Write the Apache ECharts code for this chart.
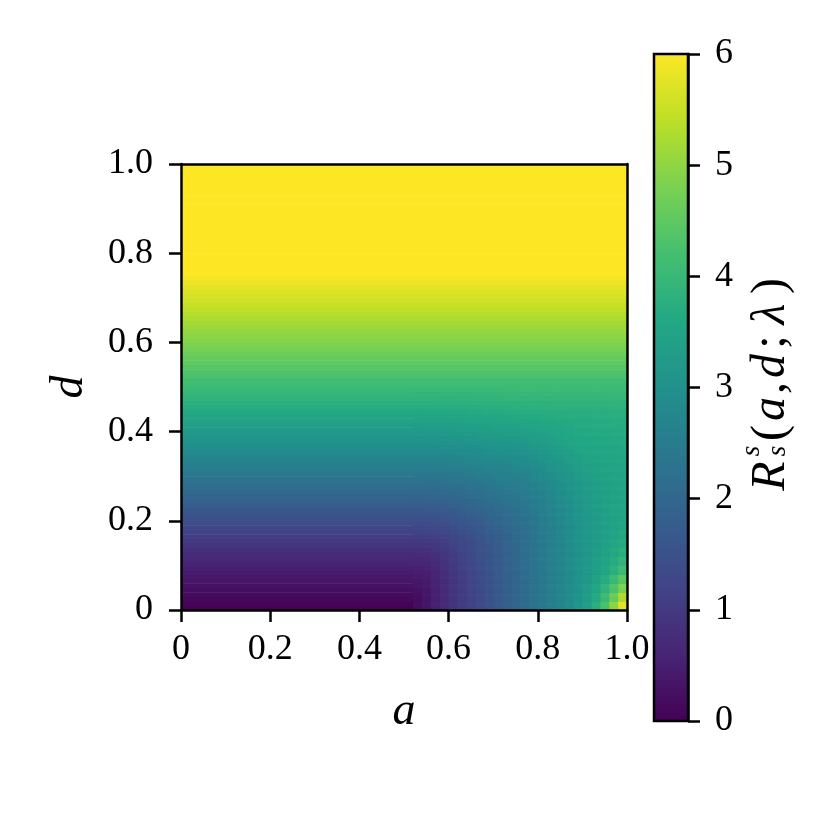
<!DOCTYPE html>
<html>
<head>
<meta charset="utf-8">
<script src="https://cdn.jsdelivr.net/npm/echarts@6/dist/echarts.min.js"></script>
<style>
  html, body { margin: 0; padding: 0; background: #fff; }
  #chart { width: 830px; height: 830px; }
</style>
</head>
<body>
<div id="chart"></div>
<script>
'use strict';

// R along d (rows 0.01 tall, from d = 0 upwards); away from the lower right
// corner it does not depend on a
var profileStep = 0.01;
var profileR = [
  0.02, 0.07, 0.12, 0.18, 0.23, 0.29, 0.34, 0.40, 0.47, 0.53,
  0.60, 0.67, 0.74, 0.82, 0.91, 0.99, 1.08, 1.18, 1.27, 1.37,
  1.46, 1.56, 1.65, 1.75, 1.84, 1.94, 2.03, 2.11, 2.20, 2.29,
  2.38, 2.47, 2.56, 2.65, 2.74, 2.83, 2.92, 3.01, 3.10, 3.18,
  3.27, 3.35, 3.44, 3.52, 3.61, 3.69, 3.77, 3.85, 3.93, 4.01,
  4.09, 4.17, 4.25, 4.33, 4.41, 4.49, 4.57, 4.65, 4.73, 4.81,
  4.88, 4.96, 5.03, 5.11, 5.18, 5.26, 5.33, 5.41, 5.48, 5.56,
  5.63, 5.70, 5.77, 5.85, 5.92, 5.99, 6, 6, 6, 6,
  6, 6, 6, 6, 6, 6, 6, 6, 6, 6,
  6, 6, 6, 6, 6, 6, 6, 6, 6, 6
];

// lower right corner: how much R rises above the profile there.
// columns a = 0.52-0.54 ... 0.98-1.00, rows d = 0-0.02 ... 0.48-0.50
var cornerA = [0.53, 0.55, 0.57, 0.59, 0.61, 0.63, 0.65, 0.67, 0.69, 0.71, 0.73, 0.75,
               0.77, 0.79, 0.81, 0.83, 0.85, 0.87, 0.89, 0.91, 0.93, 0.95, 0.97, 0.99];
var cornerD = [0.01, 0.03, 0.05, 0.07, 0.09, 0.11, 0.13, 0.15, 0.17, 0.19,
               0.21, 0.23, 0.25, 0.27, 0.29, 0.31, 0.33, 0.35, 0.37, 0.39,
               0.41, 0.43, 0.45, 0.47, 0.49];
var cornerRise = [
  [0.15, 0.30, 0.50, 0.68, 0.85, 1.00, 1.15, 1.30, 1.45, 1.60, 1.75, 1.90, 2.05, 2.20, 2.35, 2.50, 2.65, 2.82, 3.05, 3.30, 3.70, 4.20, 4.90, 5.70],
  [0.08, 0.20, 0.40, 0.58, 0.75, 0.90, 1.05, 1.20, 1.35, 1.50, 1.65, 1.80, 1.95, 2.10, 2.25, 2.40, 2.55, 2.72, 2.92, 3.15, 3.50, 3.90, 4.45, 5.10],
  [0.05, 0.13, 0.30, 0.48, 0.65, 0.80, 0.95, 1.10, 1.25, 1.40, 1.55, 1.70, 1.85, 2.00, 2.15, 2.30, 2.45, 2.62, 2.82, 3.03, 3.30, 3.62, 4.05, 4.55],
  [0.03, 0.09, 0.23, 0.40, 0.56, 0.71, 0.86, 1.01, 1.16, 1.31, 1.45, 1.60, 1.75, 1.90, 2.05, 2.20, 2.35, 2.51, 2.69, 2.87, 3.08, 3.33, 3.67, 4.05],
  [0.02, 0.05, 0.16, 0.31, 0.46, 0.61, 0.75, 0.89, 1.04, 1.19, 1.33, 1.48, 1.63, 1.78, 1.93, 2.07, 2.22, 2.38, 2.54, 2.70, 2.87, 3.05, 3.30, 3.58],
  [0.01, 0.03, 0.11, 0.24, 0.38, 0.52, 0.65, 0.79, 0.93, 1.07, 1.22, 1.36, 1.50, 1.65, 1.80, 1.94, 2.09, 2.24, 2.40, 2.55, 2.70, 2.85, 3.05, 3.28],
  [0.00, 0.02, 0.08, 0.18, 0.30, 0.42, 0.55, 0.68, 0.81, 0.95, 1.09, 1.23, 1.37, 1.50, 1.65, 1.80, 1.95, 2.09, 2.24, 2.39, 2.53, 2.66, 2.82, 2.98],
  [0.00, 0.01, 0.05, 0.13, 0.23, 0.33, 0.44, 0.56, 0.69, 0.82, 0.95, 1.08, 1.21, 1.34, 1.49, 1.63, 1.78, 1.93, 2.08, 2.22, 2.34, 2.46, 2.59, 2.72],
  [0.00, 0.01, 0.04, 0.10, 0.18, 0.26, 0.36, 0.47, 0.58, 0.70, 0.82, 0.94, 1.05, 1.18, 1.33, 1.47, 1.62, 1.76, 1.91, 2.05, 2.16, 2.27, 2.37, 2.47],
  [0.00, 0.01, 0.03, 0.07, 0.14, 0.21, 0.29, 0.38, 0.49, 0.59, 0.70, 0.80, 0.90, 1.02, 1.16, 1.30, 1.44, 1.58, 1.73, 1.86, 1.97, 2.07, 2.16, 2.24],
  [0.00, 0.01, 0.02, 0.06, 0.11, 0.17, 0.24, 0.31, 0.40, 0.49, 0.59, 0.67, 0.76, 0.87, 1.00, 1.14, 1.28, 1.42, 1.56, 1.69, 1.79, 1.88, 1.95, 2.02],
  [0.00, 0.01, 0.02, 0.05, 0.09, 0.14, 0.19, 0.26, 0.34, 0.42, 0.49, 0.56, 0.64, 0.74, 0.86, 0.99, 1.12, 1.26, 1.39, 1.52, 1.62, 1.70, 1.76, 1.80],
  [0.00, 0.01, 0.02, 0.04, 0.07, 0.11, 0.16, 0.22, 0.29, 0.35, 0.41, 0.47, 0.53, 0.62, 0.73, 0.85, 0.98, 1.11, 1.24, 1.36, 1.45, 1.52, 1.57, 1.61],
  [0.00, 0.01, 0.01, 0.03, 0.06, 0.10, 0.14, 0.19, 0.25, 0.30, 0.35, 0.39, 0.44, 0.52, 0.63, 0.74, 0.86, 0.98, 1.10, 1.21, 1.29, 1.35, 1.39, 1.43],
  [0.00, 0.01, 0.01, 0.03, 0.05, 0.08, 0.12, 0.16, 0.21, 0.26, 0.29, 0.33, 0.37, 0.45, 0.54, 0.64, 0.75, 0.86, 0.97, 1.07, 1.14, 1.20, 1.23, 1.26],
  [0.00, 0.00, 0.01, 0.02, 0.04, 0.07, 0.10, 0.13, 0.16, 0.20, 0.24, 0.28, 0.31, 0.37, 0.46, 0.55, 0.65, 0.75, 0.86, 0.95, 1.00, 1.04, 1.07, 1.10],
  [0.00, 0.00, 0.01, 0.02, 0.04, 0.06, 0.08, 0.11, 0.14, 0.17, 0.20, 0.23, 0.26, 0.31, 0.39, 0.47, 0.56, 0.66, 0.75, 0.83, 0.87, 0.90, 0.92, 0.94],
  [0.00, 0.00, 0.01, 0.02, 0.03, 0.05, 0.07, 0.10, 0.12, 0.14, 0.17, 0.19, 0.22, 0.27, 0.34, 0.41, 0.49, 0.57, 0.65, 0.71, 0.74, 0.76, 0.77, 0.79],
  [0.00, 0.00, 0.01, 0.02, 0.03, 0.05, 0.06, 0.08, 0.10, 0.12, 0.14, 0.16, 0.18, 0.23, 0.29, 0.36, 0.43, 0.50, 0.56, 0.59, 0.60, 0.61, 0.62, 0.64],
  [0.00, 0.00, 0.01, 0.01, 0.02, 0.04, 0.05, 0.07, 0.09, 0.11, 0.12, 0.14, 0.16, 0.20, 0.25, 0.30, 0.35, 0.40, 0.44, 0.47, 0.48, 0.48, 0.49, 0.50],
  [0.00, 0.00, 0.01, 0.01, 0.02, 0.04, 0.05, 0.07, 0.08, 0.09, 0.10, 0.12, 0.14, 0.17, 0.20, 0.23, 0.26, 0.29, 0.32, 0.34, 0.35, 0.36, 0.37, 0.38],
  [0.00, 0.00, 0.01, 0.01, 0.02, 0.03, 0.05, 0.06, 0.07, 0.08, 0.09, 0.11, 0.12, 0.14, 0.16, 0.17, 0.18, 0.19, 0.20, 0.21, 0.22, 0.22, 0.23, 0.24],
  [0.00, 0.00, 0.01, 0.01, 0.02, 0.02, 0.04, 0.05, 0.06, 0.06, 0.07, 0.08, 0.09, 0.10, 0.11, 0.11, 0.12, 0.12, 0.12, 0.12, 0.13, 0.13, 0.14, 0.14],
  [0.00, 0.00, 0.00, 0.01, 0.01, 0.01, 0.02, 0.03, 0.04, 0.04, 0.05, 0.05, 0.06, 0.06, 0.06, 0.06, 0.07, 0.07, 0.07, 0.07, 0.07, 0.07, 0.08, 0.08],
  [0.00, 0.00, 0.00, 0.00, 0.01, 0.01, 0.01, 0.02, 0.02, 0.02, 0.03, 0.03, 0.03, 0.03, 0.03, 0.03, 0.04, 0.04, 0.04, 0.04, 0.04, 0.04, 0.04, 0.04]
];

var xTickLabels = ['0', '0.2', '0.4', '0.6', '0.8', '1.0'];
var yTickLabels = ['0', '0.2', '0.4', '0.6', '0.8', '1.0'];
var barTickLabels = ['0', '1', '2', '3', '4', '5', '6'];

var viridis = ['#440154', '#482475', '#414487', '#355f8d', '#2a788e', '#21918c',
               '#22a884', '#44bf70', '#7ad151', '#bddf26', '#fde725'];

var SERIF = '"Liberation Serif", "DejaVu Serif", serif';
var TICK_FONT = 36;

var cornerW = cornerA[1] - cornerA[0];
var cornerH = cornerD[1] - cornerD[0];

// [d, R] rows spanning the whole width
var profileRows = profileR.map(function (v, k) {
    return [(k + 0.5) * profileStep, v];
});

// [a, d, R] cells of the corner, on the profile's rows
var cornerCells = [];
profileR.forEach(function (v, k) {
    var d = (k + 0.5) * profileStep;
    var i = Math.floor(d / cornerH);
    if (i >= cornerD.length) return;
    cornerA.forEach(function (a, j) {
        cornerCells.push([a, d, v + cornerRise[i][j]]);
    });
});

function renderRow(params, api) {
    var d = api.value(0);
    var p0 = api.coord([0, d + profileStep / 2]);
    var p1 = api.coord([1, d - profileStep / 2]);
    return {
        type: 'rect',
        shape: { x: p0[0], y: p0[1], width: p1[0] - p0[0], height: p1[1] - p0[1] + 0.6 },
        style: { fill: api.visual('color') }
    };
}

function renderCell(params, api) {
    var a = api.value(0), d = api.value(1);
    var p0 = api.coord([a - cornerW / 2, d + profileStep / 2]);
    var p1 = api.coord([a + cornerW / 2, d - profileStep / 2]);
    return {
        type: 'rect',
        shape: { x: p0[0], y: p0[1], width: p1[0] - p0[0] + 0.6, height: p1[1] - p0[1] + 0.6 },
        style: { fill: api.visual('color') }
    };
}

function renderBar(params, api) {
    var p0 = api.coord([0, api.value(1)]);
    var p1 = api.coord([1, api.value(0)]);
    var stops = viridis.map(function (c, k) {
        return { offset: 1 - k / (viridis.length - 1), color: c };
    });
    return {
        type: 'rect',
        shape: { x: p0[0], y: p0[1], width: p1[0] - p0[0], height: p1[1] - p0[1] },
        style: {
            fill: new echarts.graphic.LinearGradient(0, 0, 0, 1, stops),
            stroke: '#000',
            lineWidth: 2.5
        }
    };
}

function tickAxis(extra) {
    var base = {
        type: 'value',
        axisLine: { show: true, onZero: false, lineStyle: { color: '#000', width: 2.5 } },
        axisTick: { show: true, inside: false, length: 12, lineStyle: { color: '#000', width: 2.5 } },
        splitLine: { show: false },
        z: 5
    };
    return Object.assign(base, extra);
}

function frameAxis(extra) {
    var base = {
        type: 'value',
        min: 0, max: 1,
        axisLine: { show: true, onZero: false, lineStyle: { color: '#000', width: 2.5 } },
        axisTick: { show: false },
        axisLabel: { show: false },
        splitLine: { show: false },
        z: 5
    };
    return Object.assign(base, extra);
}

function labelPiece(x, y, text, size, italic) {
    return {
        type: 'text', x: x, y: y,
        style: {
            text: text, fill: '#000', fontFamily: SERIF, fontSize: size,
            fontStyle: italic ? 'italic' : 'normal',
            align: 'center', verticalAlign: 'middle'
        }
    };
}

var chart = echarts.init(document.getElementById('chart'), null, { renderer: 'canvas' });

chart.setOption({
    animation: false,
    backgroundColor: '#fff',
    grid: [
        { left: 181, top: 164, width: 446, height: 446, show: false },
        { left: 654, top: 54, width: 34, height: 667, show: false }
    ],
    xAxis: [
        tickAxis({
            gridIndex: 0, position: 'bottom', min: 0, max: 1, interval: 0.2,
            axisLabel: {
                color: '#000', fontFamily: SERIF, fontSize: TICK_FONT, margin: 22,
                formatter: function (v) { return xTickLabels[Math.round(v / 0.2)]; }
            },
            name: 'a', nameLocation: 'middle', nameGap: 79,
            nameTextStyle: { color: '#000', fontFamily: SERIF, fontStyle: 'italic', fontSize: 46 }
        }),
        frameAxis({ gridIndex: 0, position: 'top' }),
        { type: 'value', gridIndex: 1, min: 0, max: 1, show: false }
    ],
    yAxis: [
        tickAxis({
            gridIndex: 0, position: 'left', min: 0, max: 1, interval: 0.2,
            axisLabel: {
                color: '#000', fontFamily: SERIF, fontSize: TICK_FONT, margin: 28,
                formatter: function (v) { return yTickLabels[Math.round(v / 0.2)]; }
            },
            name: 'd', nameLocation: 'middle', nameGap: 88,
            nameTextStyle: { color: '#000', fontFamily: SERIF, fontStyle: 'italic', fontSize: 46 }
        }),
        frameAxis({ gridIndex: 0, position: 'right' }),
        tickAxis({
            gridIndex: 1, position: 'right', min: 0, max: 6, interval: 1,
            axisLabel: {
                color: '#000', fontFamily: SERIF, fontSize: TICK_FONT, margin: 27,
                formatter: function (v) { return barTickLabels[Math.round(v)]; }
            }
        })
    ],
    visualMap: [
        { type: 'continuous', show: false, seriesIndex: 0, dimension: 1,
          min: 0, max: 6, inRange: { color: viridis } },
        { type: 'continuous', show: false, seriesIndex: 1, dimension: 2,
          min: 0, max: 6, inRange: { color: viridis } }
    ],
    series: [
        {
            type: 'custom',
            xAxisIndex: 0,
            yAxisIndex: 0,
            renderItem: renderRow,
            data: profileRows,
            z: 1
        },
        {
            type: 'custom',
            xAxisIndex: 0,
            yAxisIndex: 0,
            renderItem: renderCell,
            data: cornerCells,
            z: 2
        },
        {
            type: 'custom',
            xAxisIndex: 2,
            yAxisIndex: 2,
            renderItem: renderBar,
            data: [[0, 6]],
            z: 1
        }
    ],
    graphic: [
        {
            type: 'group',
            x: 771,
            y: 383,
            rotation: Math.PI / 2,
            children: [
                labelPiece(-93, 0, 'R', 48, true),
                labelPiece(-68, -19, 's', 27, true),
                labelPiece(-68, 7, 's', 27, true),
                labelPiece(-50, 0, '(', 48, false),
                labelPiece(-26, 0, 'a', 48, true),
                labelPiece(-5, 0, ',', 48, false),
                labelPiece(17, 0, 'd', 48, true),
                labelPiece(41, 0, ';', 48, false),
                labelPiece(69, 0, 'λ', 48, true),
                labelPiece(97, 0, ')', 48, false)
            ]
        }
    ]
});
</script>
</body>
</html>
